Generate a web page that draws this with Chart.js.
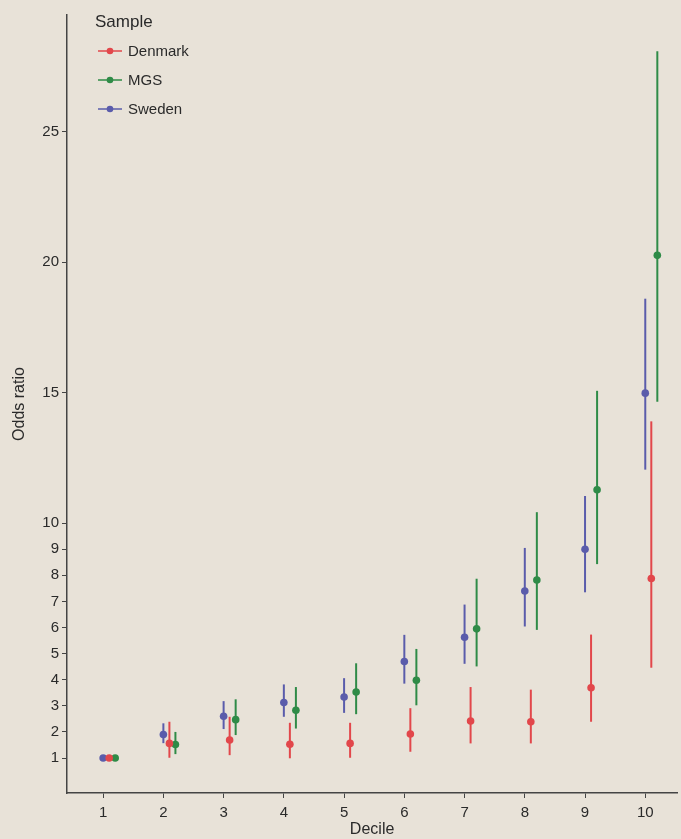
<!DOCTYPE html>
<html>
<head>
<meta charset="utf-8">
<script src="https://cdn.jsdelivr.net/npm/chart.js@4.4.0/dist/chart.umd.min.js"></script>
<style>
  html, body { margin: 0; padding: 0; background: #e8e2d8; }
  #wrap { width: 681px; height: 839px; position: relative; }
</style>
</head>
<body>
<div id="wrap"><canvas id="chart"></canvas></div>
<script>
const deciles = [1, 2, 3, 4, 5, 6, 7, 8, 9, 10];
const yTicks = [1, 2, 3, 4, 5, 6, 7, 8, 9, 10, 15, 20, 25];

const denmarkOR   = [1.0, 1.56, 1.69, 1.53, 1.56, 1.92, 2.42, 2.39, 3.69, 7.88];
const denmarkLow  = [1.0, 1.01, 1.11, 0.99, 1.01, 1.24, 1.56, 1.56, 2.39, 4.46];
const denmarkHigh = [1.0, 2.39, 2.58, 2.35, 2.35, 2.91, 3.72, 3.62, 5.73, 13.9];

const mgsOR   = [1.0, 1.52, 2.47, 2.83, 3.53, 3.98, 5.95, 7.82, 11.28, 20.26];
const mgsLow  = [1.0, 1.15, 1.88, 2.13, 2.68, 3.02, 4.51, 5.91, 8.43, 14.65];
const mgsHigh = [1.0, 2.0, 3.25, 3.72, 4.63, 5.18, 7.87, 10.42, 15.07, 28.08];

const swedenOR   = [1.0, 1.90, 2.60, 3.13, 3.34, 4.70, 5.63, 7.40, 9.0, 14.98];
const swedenLow  = [1.0, 1.57, 2.11, 2.58, 2.73, 3.85, 4.61, 6.04, 7.35, 12.05];
const swedenHigh = [1.0, 2.33, 3.18, 3.82, 4.06, 5.72, 6.88, 9.05, 11.04, 18.6];

const FONT = "'Liberation Sans', Arial, sans-serif";
const INK = "#2a2a2a";

// dodge inside each decile: Sweden on the tick, Denmark and MGS to the right
const series = [
  { name: "Denmark", color: "#e2474b", dodge: 0.1, or: denmarkOR, lo: denmarkLow, hi: denmarkHigh },
  { name: "MGS",     color: "#2f8b47", dodge: 0.2, or: mgsOR,     lo: mgsLow,     hi: mgsHigh },
  { name: "Sweden",  color: "#5a5cab", dodge: 0.0, or: swedenOR,  lo: swedenLow,  hi: swedenHigh }
];

const datasets = series.map(s => ({
  label: s.name,
  data: deciles.map((d, i) => ({ x: d + s.dodge, y: s.or[i], lo: s.lo[i], hi: s.hi[i] })),
  backgroundColor: s.color,
  borderColor: s.color,
  pointRadius: 3.8,
  pointHoverRadius: 3.8,
  borderWidth: 0,
  showLine: false
}));

const errorBars = {
  id: "errorBars",
  beforeDatasetsDraw(chart) {
    const { ctx, scales: { x, y } } = chart;
    ctx.save();
    ctx.lineWidth = 2;
    chart.data.datasets.forEach(ds => {
      ctx.strokeStyle = ds.borderColor;
      ds.data.forEach(p => {
        if (p.hi === p.lo) return;
        const px = x.getPixelForValue(p.x);
        ctx.beginPath();
        ctx.moveTo(px, y.getPixelForValue(p.lo));
        ctx.lineTo(px, y.getPixelForValue(p.hi));
        ctx.stroke();
      });
    });
    ctx.restore();
  }
};

const legendBox = {
  id: "legendBox",
  afterDraw(chart) {
    const { ctx } = chart;
    ctx.save();
    ctx.fillStyle = INK;
    ctx.textBaseline = "middle";
    ctx.font = "17px " + FONT;
    ctx.fillText("Sample", 95, 22);
    ctx.font = "15px " + FONT;
    series.forEach((s, i) => {
      const cy = 51 + i * 29;
      ctx.strokeStyle = s.color;
      ctx.lineWidth = 1.5;
      ctx.beginPath();
      ctx.moveTo(98, cy);
      ctx.lineTo(122, cy);
      ctx.stroke();
      ctx.fillStyle = s.color;
      ctx.beginPath();
      ctx.arc(110, cy, 3.3, 0, Math.PI * 2);
      ctx.fill();
      ctx.fillStyle = INK;
      ctx.fillText(s.name, 128, cy + 1);
    });
    ctx.restore();
  }
};

new Chart(document.getElementById("chart"), {
  type: "scatter",
  data: { datasets },
  plugins: [errorBars, legendBox],
  options: {
    responsive: true,
    maintainAspectRatio: false,
    animation: false,
    layout: { padding: { top: 15, right: 0, left: 0, bottom: 0 } },
    plugins: {
      legend: { display: false },
      tooltip: { enabled: false }
    },
    scales: {
      x: {
        type: "linear",
        min: 0.4,
        max: 10.53,
        afterBuildTicks: sc => { sc.ticks = deciles.map(v => ({ value: v })); },
        afterFit: sc => { sc.height = 46; },
        border: { display: true, color: "#444", width: 1.5 },
        grid: { display: true, drawOnChartArea: false, drawTicks: true, tickLength: 5, color: "#444" },
        ticks: { color: INK, font: { family: FONT, size: 15 }, padding: 6, maxRotation: 0 },
        title: { display: true, text: "Decile", color: INK, font: { family: FONT, size: 16 }, padding: { top: 0, bottom: 0 } }
      },
      y: {
        type: "linear",
        min: -0.34,
        max: 29.47,
        afterBuildTicks: sc => { sc.ticks = yTicks.map(v => ({ value: v })); },
        afterFit: sc => { sc.width = 67; },
        border: { display: true, color: "#444", width: 1.5 },
        grid: { display: true, drawOnChartArea: false, drawTicks: true, tickLength: 5, color: "#444" },
        ticks: { color: INK, font: { family: FONT, size: 15 }, padding: 3 },
        title: { display: true, text: "Odds ratio", color: INK, font: { family: FONT, size: 16 }, padding: { top: 10, bottom: 0 } }
      }
    }
  }
});
</script>
</body>
</html>
